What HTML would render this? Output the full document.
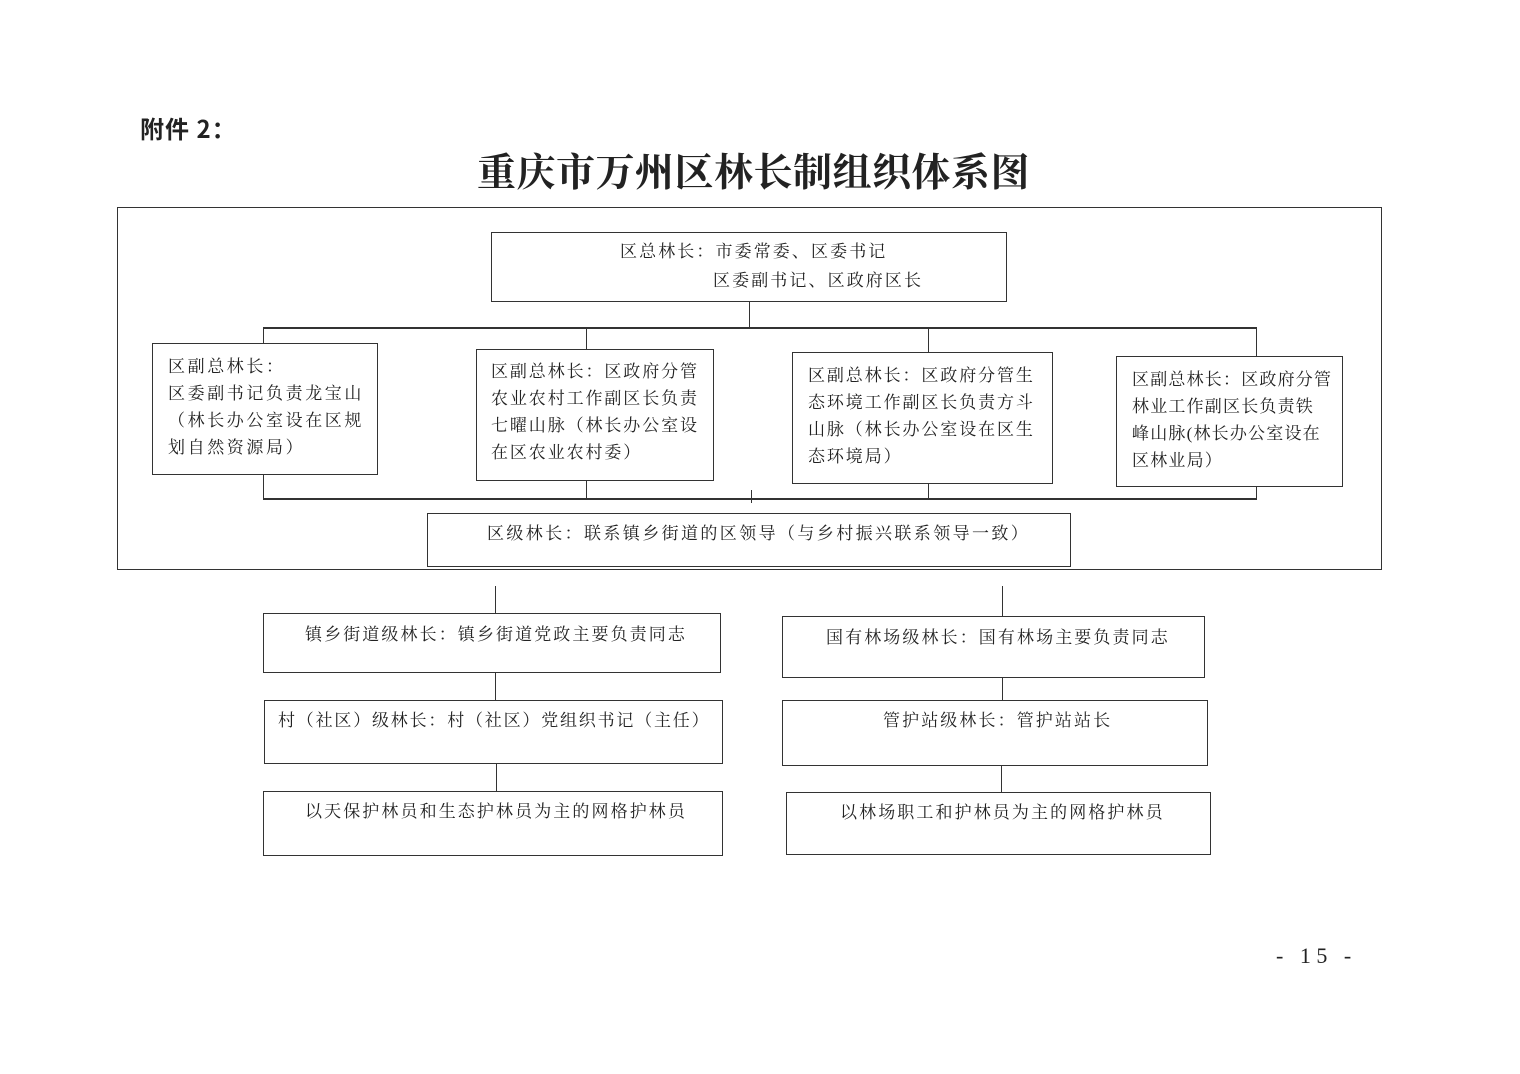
<!DOCTYPE html>
<html><head><meta charset="utf-8"><style>
body{margin:0;width:1520px;height:1074px;background:#fff;position:relative;overflow:hidden;font-family:"Liberation Serif","Noto Serif CJK SC",serif;color:#222}
.b{position:absolute;border:1.3px solid #333;box-sizing:border-box}
.l{position:absolute;background:#333}
.t{position:absolute;font-size:17px;letter-spacing:2.1px;white-space:nowrap;line-height:27px}
</style></head><body>
<div class="t" style="left:140px;top:114px;font-size:24px;font-weight:bold;letter-spacing:1px;line-height:28px;font-family:'Noto Sans CJK SC',sans-serif">附件 2：</div>
<div class="t" style="left:477px;top:147px;font-size:39px;line-height:46px;font-weight:bold;letter-spacing:0.5px;font-family:'Noto Serif CJK SC',serif">重庆市万州区林长制组织体系图</div>
<div class="b" style="left:117px;top:207px;width:1265px;height:363px"></div>
<div class="b" style="left:491px;top:232px;width:516px;height:70px"></div>
<div class="t" style="left:620px;top:238px">区总林长：市委常委、区委书记</div>
<div class="t" style="left:713px;top:267px">区委副书记、区政府区长</div>
<div class="l" style="left:749px;top:301px;width:1.3px;height:26px"></div>
<div class="l" style="left:263px;top:327px;width:994px;height:1.5px"></div>
<div class="l" style="left:263px;top:327px;width:1.3px;height:17px"></div>
<div class="l" style="left:586px;top:327px;width:1.3px;height:22px"></div>
<div class="l" style="left:928px;top:327px;width:1.3px;height:25px"></div>
<div class="l" style="left:1256px;top:327px;width:1.3px;height:29px"></div>
<div class="b" style="left:152px;top:343px;width:226px;height:132px"></div>
<div class="t" style="left:168px;top:353px;letter-spacing:2.6px">区副总林长：<br>区委副书记负责龙宝山<br>（林长办公室设在区规<br>划自然资源局）</div>
<div class="b" style="left:476px;top:349px;width:238px;height:132px"></div>
<div class="t" style="left:491px;top:358px;letter-spacing:1.9px">区副总林长：区政府分管<br>农业农村工作副区长负责<br>七曜山脉（林长办公室设<br>在区农业农村委）</div>
<div class="b" style="left:792px;top:352px;width:261px;height:132px"></div>
<div class="t" style="left:808px;top:362px;letter-spacing:1.9px">区副总林长：区政府分管生<br>态环境工作副区长负责方斗<br>山脉（林长办公室设在区生<br>态环境局）</div>
<div class="b" style="left:1116px;top:356px;width:227px;height:131px"></div>
<div class="t" style="left:1132px;top:366px;letter-spacing:1.2px">区副总林长：区政府分管<br>林业工作副区长负责铁<br>峰山脉(林长办公室设在<br>区林业局）</div>
<div class="l" style="left:263px;top:474px;width:1.3px;height:25px"></div>
<div class="l" style="left:586px;top:480px;width:1.3px;height:19px"></div>
<div class="l" style="left:928px;top:483px;width:1.3px;height:16px"></div>
<div class="l" style="left:1256px;top:486px;width:1.3px;height:13px"></div>
<div class="l" style="left:751px;top:490px;width:1.3px;height:13px"></div>
<div class="l" style="left:263px;top:498px;width:994px;height:1.5px"></div>
<div class="b" style="left:427px;top:513px;width:644px;height:54px"></div>
<div class="t" style="left:487px;top:520px;letter-spacing:2.4px">区级林长：联系镇乡街道的区领导（与乡村振兴联系领导一致）</div>
<div class="l" style="left:495px;top:586px;width:1.3px;height:27px"></div>
<div class="l" style="left:1002px;top:586px;width:1.3px;height:30px"></div>
<div class="b" style="left:263px;top:613px;width:458px;height:60px"></div>
<div class="t" style="left:305px;top:621px">镇乡街道级林长：镇乡街道党政主要负责同志</div>
<div class="l" style="left:495px;top:672px;width:1.3px;height:28px"></div>
<div class="b" style="left:264px;top:700px;width:459px;height:64px"></div>
<div class="t" style="left:278px;top:707px;letter-spacing:1.8px">村（社区）级林长：村（社区）党组织书记（主任）</div>
<div class="l" style="left:496px;top:763px;width:1.3px;height:28px"></div>
<div class="b" style="left:263px;top:791px;width:460px;height:65px"></div>
<div class="t" style="left:305px;top:798px">以天保护林员和生态护林员为主的网格护林员</div>
<div class="b" style="left:782px;top:616px;width:423px;height:62px"></div>
<div class="t" style="left:826px;top:624px">国有林场级林长：国有林场主要负责同志</div>
<div class="l" style="left:1002px;top:677px;width:1.3px;height:23px"></div>
<div class="b" style="left:782px;top:700px;width:426px;height:66px"></div>
<div class="t" style="left:883px;top:707px">管护站级林长：管护站站长</div>
<div class="l" style="left:1001px;top:765px;width:1.3px;height:27px"></div>
<div class="b" style="left:786px;top:792px;width:425px;height:63px"></div>
<div class="t" style="left:840px;top:799px">以林场职工和护林员为主的网格护林员</div>
<div class="t" style="left:1276px;top:943px;font-size:22px;line-height:26px;letter-spacing:5.5px">- 15 -</div>
</body></html>
